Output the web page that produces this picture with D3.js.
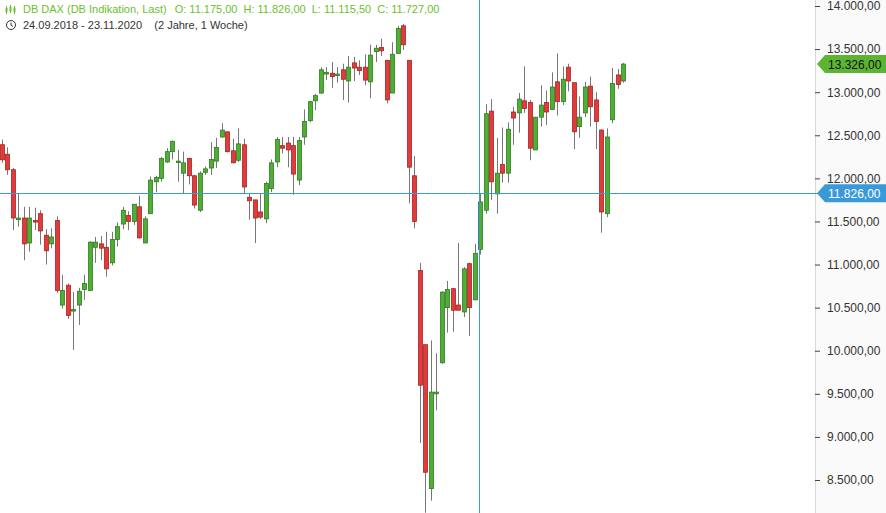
<!DOCTYPE html>
<html lang="en">
<head>
<meta charset="UTF-8">
<title>DB DAX</title>
<script src="https://d3js.org/d3.v7.min.js"></script>
<style>
  body { margin: 0; background: #fff; }
  svg { display: block; font-family: Arial, "Liberation Sans", sans-serif; }
</style>
</head>
<body>
<svg width="886" height="513"></svg>
<script>
// weekly candles, 24.09.2018 - 23.11.2020
const opens  = [12390,12280,12100,11520,11540,11250,11510,11590,11340,11240,11510,10530,10760,10460,10530,10710,10700,11200,11240,11200,
  11020,11290,11470,11570,11500,11670,11250,11590,11960,12000,12190,12310,12190,12060,12230,12030,11630,12070,12120,12200,
  12480,12540,12320,12210,12390,11780,11750,11610,11530,11880,12190,12380,12410,12380,11980,12480,12670,12900,12990,13210,
  13220,13210,13260,13130,13340,13290,13290,13120,13470,13520,13370,12990,13450,13770,13370,12030,10930,10070,8400,9500,
  9860,10500,10720,10530,10450,11010,10590,11175,11630,12780,11820,12160,12060,12770,12760,12900,12880,12330,12710,12880,
  12800,13120,12890,13290,13110,12600,12760,13070,12910,12560,11590,12680,13200,13130];
const highs  = [12450,12360,12120,11830,11670,11670,11660,11630,11410,11420,11560,10880,10780,10680,10730,10880,11270,11320,11330,11380,
  11380,11490,11670,11620,11700,11800,11560,12020,12030,12250,12350,12440,12330,12310,12240,12040,12080,12140,12420,12470,
  12640,12540,12460,12580,12460,11830,11750,11830,11960,12220,12480,12480,12480,12480,12480,12800,12900,12980,13290,13290,
  13350,13290,13330,13420,13410,13370,13440,13550,13550,13620,13370,13580,13770,13790,13370,12260,11020,10070,10120,9970,
  10690,10810,10730,11250,10970,11020,11240,11826,12860,12920,12470,12590,12650,12830,12990,13300,12910,12710,13080,13020,
  13230,13450,13300,13330,13110,12950,13120,13180,13000,12570,12580,13280,13270,13340];
const lows   = [12180,12040,11400,11440,11050,11150,11400,11230,11000,11190,10670,10490,10370,10010,10300,10590,10690,11020,11050,10860,
  10990,11210,11410,11400,11460,11300,11250,11590,11840,11960,12180,12220,11960,11830,11930,11650,11610,12040,12040,12120,
  12470,12300,12180,12190,11830,11520,11250,11530,11480,11840,12130,12290,12130,11810,11920,12390,12650,12790,12980,13140,
  13050,13110,12910,12880,13130,13200,13080,12930,13350,13420,12870,12990,13450,13490,11710,11420,8930,8120,8260,9310,
  9850,10210,10220,10470,10390,10170,10590,11115.5,11590,11750,11590,11950,11950,12390,12530,12760,12210,12330,12600,12620,
  12800,12730,12850,13010,12340,12470,12710,12600,12340,11370,11550,12640,13040,13110];
const closes = [12215,12100,11540,11540,11240,11540,11500,11390,11160,11320,10700,10700,10410,10480,10690,10780,11260,11260,11190,10950,
  11290,11440,11630,11500,11700,11310,11530,11980,12010,12230,12310,12430,12200,12180,12030,11690,12060,12110,12220,12360,
  12560,12310,12180,12400,11900,11740,11540,11550,11940,12180,12450,12350,12330,12050,12440,12660,12890,12960,13260,13230,
  13180,13210,13150,13290,13280,13250,13140,13430,13510,13480,12910,13440,13740,13550,12130,11500,9600,8590,9520,9520,
  10680,10710,10470,10470,10950,10500,11130,11727,12750,11960,12060,12060,12570,12700,12920,12810,12350,12710,12850,12770,
  13060,12890,13150,13130,12540,12710,13060,12830,12660,11610,12480,13100,13090,13326];
const yTicks = [8500, 9000, 9500, 10000, 10500, 11000, 11500, 12000, 12500, 13000, 13500, 14000];
const lastPrice = 13326;
const crossIndex = 87;
const crossPrice = 11826;

const svg = d3.select("svg");
const axisX = 815;

const fmt = d3.formatLocale({decimal: ",", thousands: ".", grouping: [3], currency: ["", ""]}).format(",.2f");

const x = d3.scaleLinear().domain([0, opens.length - 1]).range([2, 623]);
const y = d3.scaleLinear().domain([8500, 14000]).range([480, 6]);

// axis panel
svg.append("rect").attr("x", axisX).attr("y", 0).attr("width", 886 - axisX).attr("height", 513).attr("fill", "#fafafa");
svg.append("line").attr("x1", axisX + 0.5).attr("x2", axisX + 0.5).attr("y1", 0).attr("y2", 513)
  .attr("stroke", "#d8d8d8");

const axis = svg.append("g").attr("transform", `translate(${axisX},0)`)
  .call(d3.axisRight(y).tickValues(yTicks).tickSize(5).tickPadding(7).tickFormat(fmt));
axis.select(".domain").remove();
axis.selectAll(".tick line").attr("stroke", "#444");
axis.selectAll(".tick text").attr("fill", "#333").style("font-size", "12px");

// candles
const data = opens.map((o, i) => ({i, o, h: highs[i], l: lows[i], c: closes[i]}));
const g = svg.append("g");
g.selectAll("line.wick").data(data).join("line")
  .attr("x1", d => Math.round(x(d.i)) + 0.5).attr("x2", d => Math.round(x(d.i)) + 0.5)
  .attr("y1", d => y(d.h)).attr("y2", d => y(d.l))
  .attr("stroke", "#777").attr("stroke-width", 1);
g.selectAll("rect.body").data(data).join("rect")
  .attr("x", d => Math.round(x(d.i)) - 1.5)
  .attr("width", 4)
  .attr("y", d => y(Math.max(d.o, d.c)))
  .attr("height", d => Math.max(1.5, Math.abs(y(d.o) - y(d.c))))
  .attr("fill", d => d.c >= d.o ? "#4fae36" : "#e23b3b")
  .attr("stroke", d => d.c >= d.o ? "#2e7d1e" : "#a82222")
  .attr("stroke-width", 0.8);

// crosshair
const cx = Math.round(x(crossIndex)) - 1;
svg.append("rect").attr("x", cx).attr("y", 0).attr("width", 1).attr("height", 513).attr("fill", "#3a9ad8");
svg.append("rect").attr("x", 0).attr("y", Math.round(y(crossPrice))).attr("width", axisX + 5).attr("height", 1)
  .attr("fill", "#3a9ad8");

function priceTag(v, fill, textFill) {
  const yy = y(v);
  svg.append("path")
    .attr("d", `M${axisX + 2},${yy} L${axisX + 10},${yy - 9} L886,${yy - 9} L886,${yy + 9} L${axisX + 10},${yy + 9} Z`)
    .attr("fill", fill);
  svg.append("text").attr("x", axisX + 13).attr("y", yy + 4.5)
    .attr("fill", textFill).style("font-size", "12px").text(fmt(v));
}
priceTag(lastPrice, "#5cb531", "#111");
priceTag(crossPrice, "#3a9ad8", "#fff");

// header icon: small candle glyph
[[6, 6, 14, 8, 12], [10, 5, 13, 7, 11], [14, 6, 14, 8, 12]].forEach(([bx, t, b, bt, bb]) => {
  svg.append("line").attr("x1", bx + 0.5).attr("x2", bx + 0.5).attr("y1", t).attr("y2", b).attr("stroke", "#6cbf2c");
  svg.append("rect").attr("x", bx - 0.5).attr("y", bt).attr("width", 2).attr("height", bb - bt).attr("fill", "#6cbf2c");
});
const head = svg.append("text").attr("x", 23).attr("y", 13).attr("fill", "#6cbf2c").style("font-size", "11px");
head.append("tspan").text("DB DAX (DB Indikation, Last)");
head.append("tspan").attr("dx", 8).text("O: " + fmt(opens[crossIndex]));
head.append("tspan").attr("dx", 6).text("H: " + fmt(highs[crossIndex]));
head.append("tspan").attr("dx", 6).text("L: " + fmt(lows[crossIndex]));
head.append("tspan").attr("dx", 6).text("C: " + fmt(closes[crossIndex]));

svg.append("circle").attr("cx", 11).attr("cy", 25).attr("r", 4.5).attr("fill", "none").attr("stroke", "#333").attr("stroke-width", 1);
svg.append("path").attr("d", "M11,22.5 L11,25 L13,26.5").attr("fill", "none").attr("stroke", "#333").attr("stroke-width", 1);
svg.append("text").attr("x", 23).attr("y", 29).attr("fill", "#333").style("font-size", "11px")
  .text("24.09.2018 - 23.11.2020    (2 Jahre, 1 Woche)").attr("xml:space", "preserve").style("white-space", "pre");
</script>
</body>
</html>
